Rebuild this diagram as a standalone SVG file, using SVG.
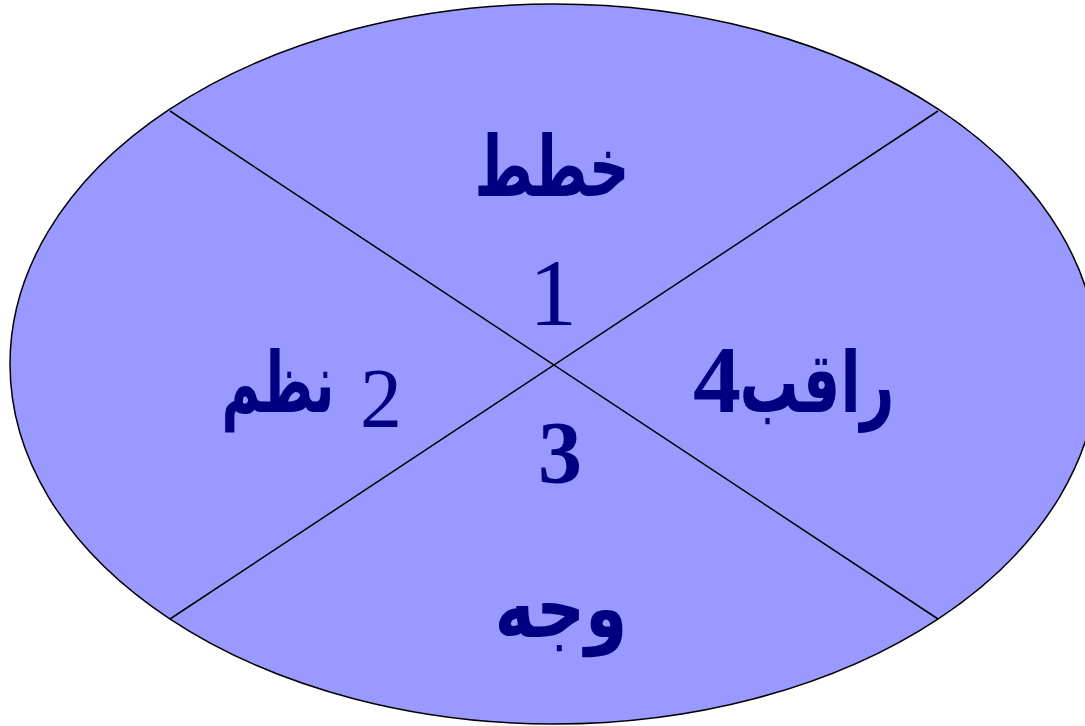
<svg xmlns="http://www.w3.org/2000/svg" width="1085" height="726" viewBox="0 0 1085 726">
<style>
.t{font-family:"Liberation Serif","DejaVu Serif","DejaVu Sans",serif;fill:#000080;text-anchor:middle}
.b{font-weight:bold}
.ar{direction:rtl;unicode-bidi:embed}
</style>
<rect width="1085" height="726" fill="#ffffff"/>
<g id="ellipse">
<ellipse cx="554" cy="364" rx="544" ry="360" fill="#9999ff" stroke="#000000" stroke-width="1.5"/>
</g>
<g id="connectors" stroke="#000000" stroke-width="1.5">
<line x1="170" y1="111" x2="938" y2="619"/>
<line x1="938" y1="111" x2="170" y2="619"/>
</g>
<g id="plan">
<text class="t b ar" x="552" y="196" font-size="84" textLength="155" lengthAdjust="spacingAndGlyphs">خطط</text>
<text class="t" x="553" y="325" font-size="96">1</text>
</g>
<g id="organize">
<text class="t b ar" x="278" y="412" font-size="84" textLength="113" lengthAdjust="spacingAndGlyphs">نظم</text>
<text class="t" x="381" y="427" font-size="84">2</text>
</g>
<g id="direct">
<text class="t b" x="560" y="482" font-size="88">3</text>
<text class="t b ar" x="561" y="637" font-size="84" textLength="133" lengthAdjust="spacingAndGlyphs">وجه</text>
</g>
<g id="monitor">
<text class="t b" x="717" y="412" font-size="96">4</text>
<text class="t b ar" x="817" y="412" font-size="84" textLength="155" lengthAdjust="spacingAndGlyphs">راقب</text>
</g>
</svg>
